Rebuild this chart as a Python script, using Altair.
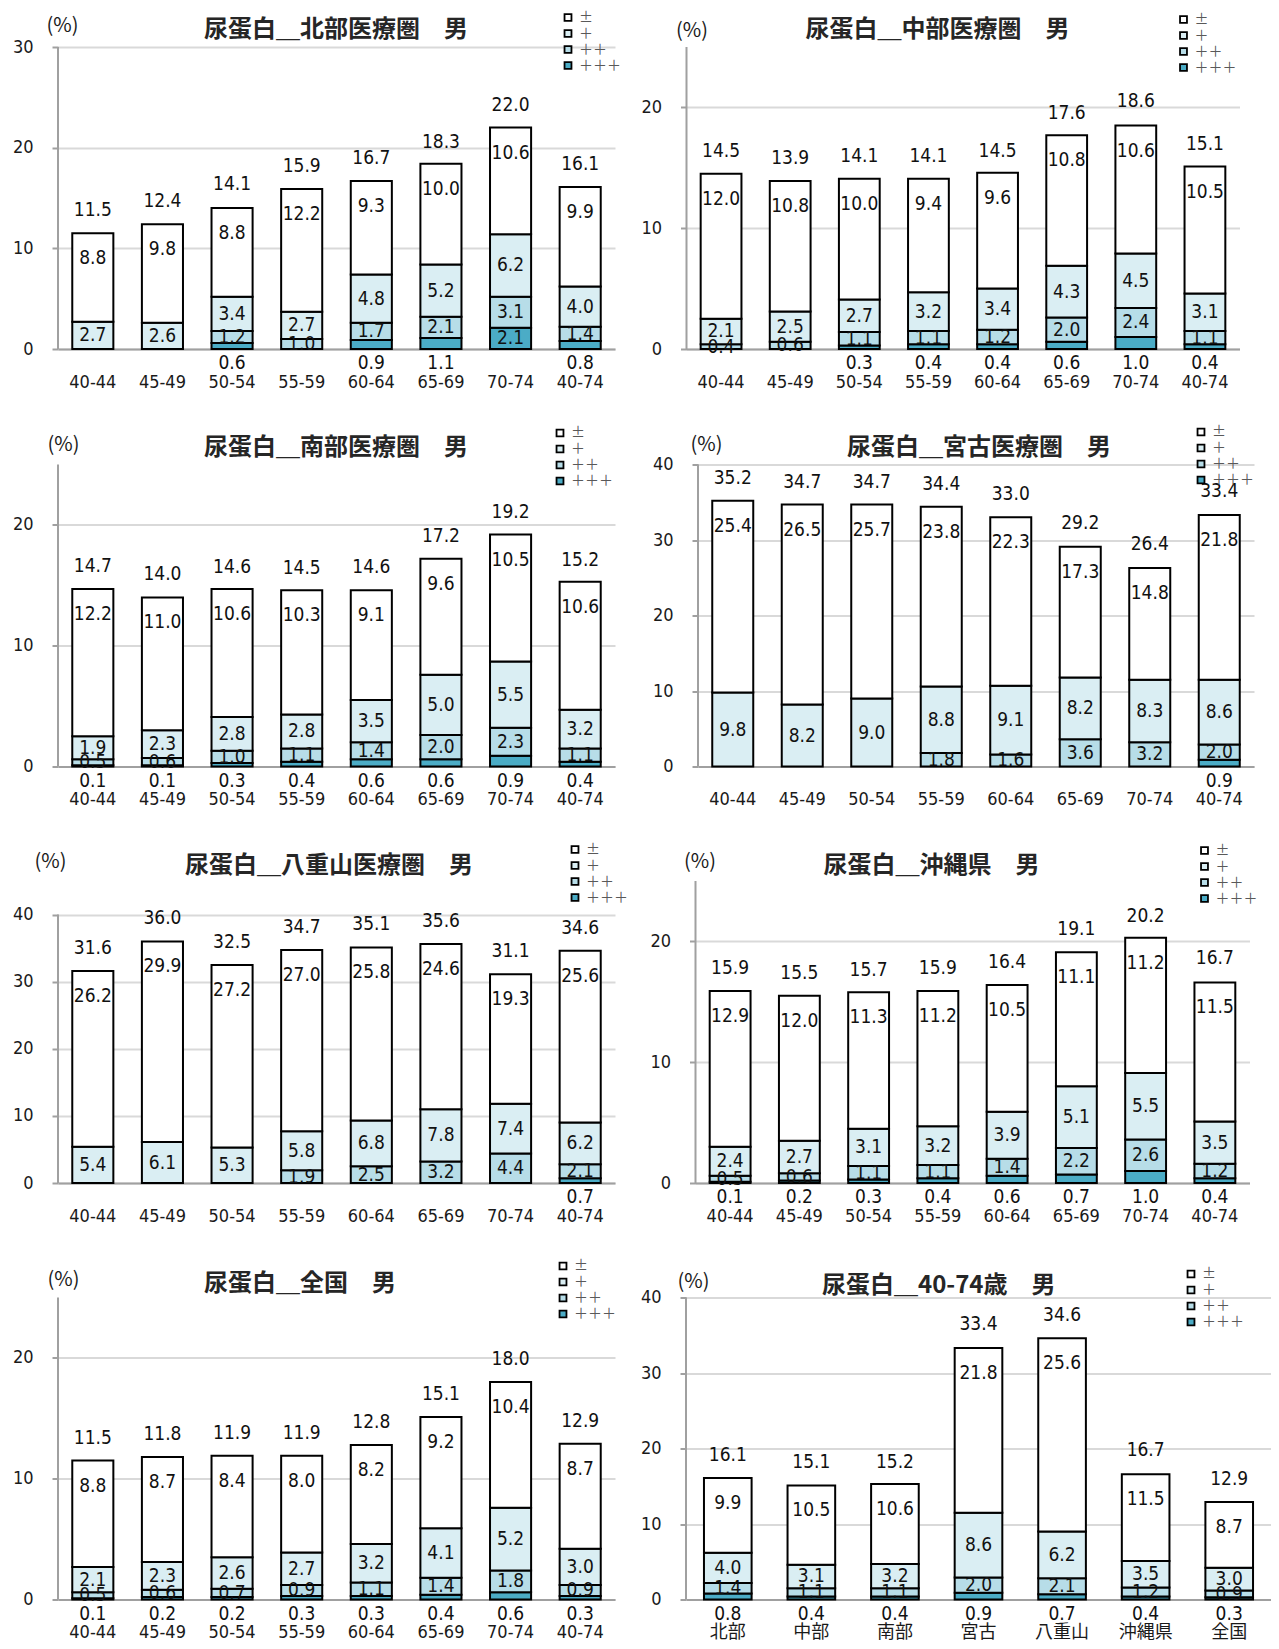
import altair as alt
import pandas as pd

AGES = ["40-44", "45-49", "50-54", "55-59", "60-64", "65-69", "70-74", "40-74"]
AREAS = ["北部", "中部", "南部", "宮古", "八重山", "沖縄県", "全国"]
GRADES = ["±", "＋", "＋＋", "＋＋＋"]
GRADE_COLORS = ["#FFFFFF", "#DAEEF3", "#B7DDE8", "#4BACC6"]

# 北部医療圏
HOKUBU_PM = [8.8, 9.8, 8.8, 12.2, 9.3, 10.0, 10.6, 9.9]
HOKUBU_P1 = [2.7, 2.6, 3.4, 2.7, 4.8, 5.2, 6.2, 4.0]
HOKUBU_P2 = [0, 0, 1.2, 1.0, 1.7, 2.1, 3.1, 1.4]
HOKUBU_P3 = [0, 0, 0.6, 0, 0.9, 1.1, 2.1, 0.8]
HOKUBU_TOTAL = [11.5, 12.4, 14.1, 15.9, 16.7, 18.3, 22.0, 16.1]

# 中部医療圏
CHUBU_PM = [12.0, 10.8, 10.0, 9.4, 9.6, 10.8, 10.6, 10.5]
CHUBU_P1 = [2.1, 2.5, 2.7, 3.2, 3.4, 4.3, 4.5, 3.1]
CHUBU_P2 = [0.4, 0.6, 1.1, 1.1, 1.2, 2.0, 2.4, 1.1]
CHUBU_P3 = [0, 0, 0.3, 0.4, 0.4, 0.6, 1.0, 0.4]
CHUBU_TOTAL = [14.5, 13.9, 14.1, 14.1, 14.5, 17.6, 18.6, 15.1]

# 南部医療圏
NANBU_PM = [12.2, 11.0, 10.6, 10.3, 9.1, 9.6, 10.5, 10.6]
NANBU_P1 = [1.9, 2.3, 2.8, 2.8, 3.5, 5.0, 5.5, 3.2]
NANBU_P2 = [0.5, 0.6, 1.0, 1.1, 1.4, 2.0, 2.3, 1.1]
NANBU_P3 = [0.1, 0.1, 0.3, 0.4, 0.6, 0.6, 0.9, 0.4]
NANBU_TOTAL = [14.7, 14.0, 14.6, 14.5, 14.6, 17.2, 19.2, 15.2]

# 宮古医療圏
MIYAKO_PM = [25.4, 26.5, 25.7, 23.8, 22.3, 17.3, 14.8, 21.8]
MIYAKO_P1 = [9.8, 8.2, 9.0, 8.8, 9.1, 8.2, 8.3, 8.6]
MIYAKO_P2 = [0, 0, 0, 1.8, 1.6, 3.6, 3.2, 2.0]
MIYAKO_P3 = [0, 0, 0, 0, 0, 0, 0, 0.9]
MIYAKO_TOTAL = [35.2, 34.7, 34.7, 34.4, 33.0, 29.2, 26.4, 33.4]

# 八重山医療圏
YAEYAMA_PM = [26.2, 29.9, 27.2, 27.0, 25.8, 24.6, 19.3, 25.6]
YAEYAMA_P1 = [5.4, 6.1, 5.3, 5.8, 6.8, 7.8, 7.4, 6.2]
YAEYAMA_P2 = [0, 0, 0, 1.9, 2.5, 3.2, 4.4, 2.1]
YAEYAMA_P3 = [0, 0, 0, 0, 0, 0, 0, 0.7]
YAEYAMA_TOTAL = [31.6, 36.0, 32.5, 34.7, 35.1, 35.6, 31.1, 34.6]

# 沖縄県
OKINAWA_PM = [12.9, 12.0, 11.3, 11.2, 10.5, 11.1, 11.2, 11.5]
OKINAWA_P1 = [2.4, 2.7, 3.1, 3.2, 3.9, 5.1, 5.5, 3.5]
OKINAWA_P2 = [0.5, 0.6, 1.1, 1.1, 1.4, 2.2, 2.6, 1.2]
OKINAWA_P3 = [0.1, 0.2, 0.3, 0.4, 0.6, 0.7, 1.0, 0.4]
OKINAWA_TOTAL = [15.9, 15.5, 15.7, 15.9, 16.4, 19.1, 20.2, 16.7]

# 全国
ZENKOKU_PM = [8.8, 8.7, 8.4, 8.0, 8.2, 9.2, 10.4, 8.7]
ZENKOKU_P1 = [2.1, 2.3, 2.6, 2.7, 3.2, 4.1, 5.2, 3.0]
ZENKOKU_P2 = [0.5, 0.6, 0.7, 0.9, 1.1, 1.4, 1.8, 0.9]
ZENKOKU_P3 = [0.1, 0.2, 0.2, 0.3, 0.3, 0.4, 0.6, 0.3]
ZENKOKU_TOTAL = [11.5, 11.8, 11.9, 11.9, 12.8, 15.1, 18.0, 12.9]

# 40-74歳 (by area)
AGE4074_PM = [9.9, 10.5, 10.6, 21.8, 25.6, 11.5, 8.7]
AGE4074_P1 = [4.0, 3.1, 3.2, 8.6, 6.2, 3.5, 3.0]
AGE4074_P2 = [1.4, 1.1, 1.1, 2.0, 2.1, 1.2, 0.9]
AGE4074_P3 = [0.8, 0.4, 0.4, 0.9, 0.7, 0.4, 0.3]
AGE4074_TOTAL = [16.1, 15.1, 15.2, 33.4, 34.6, 16.7, 12.9]

NUMFONT = "Liberation Sans Narrow, DejaVu Sans Condensed, Noto Sans CJK JP, sans-serif"
CJK = "Noto Sans CJK JP, sans-serif"
AXIS_GRAY = "#A0A0A0"
PLOT_H = 302


def panel(title, cats, pm, p1, p2, p3, total, width, ymax, axis_top, ticks,
          legend_xy, title_dx, title_dy, pct_xy, pad=0.41):
    rows = []
    for i, c in enumerate(cats):
        for g, o, vals in [(GRADES[3], 0, p3), (GRADES[2], 1, p2),
                           (GRADES[1], 2, p1), (GRADES[0], 3, pm)]:
            if vals[i] > 0:
                rows.append({"cat": c, "grade": g, "ord": o, "value": vals[i]})
    df = pd.DataFrame(rows)
    tot = pd.DataFrame({"cat": cats, "total": total})
    axis_df = pd.DataFrame({"y0": [0], "top": [axis_top]})

    xscale = alt.Scale(paddingInner=pad, paddingOuter=pad / 2)
    yscale = alt.Scale(domain=[0, ymax], nice=False, zero=True)

    x_main = alt.X("cat:N", sort=cats, scale=xscale, title=None,
                   axis=alt.Axis(labelAngle=0, ticks=False, tickSize=0,
                                 labelPadding=33, labelBaseline="middle",
                                 labelFont=NUMFONT, labelFontSize=18,
                                 labelColor="#1a1a1a", domainColor=AXIS_GRAY,
                                 domainWidth=2, grid=False))
    x_plain = alt.X("cat:N", sort=cats)

    base = alt.Chart(df).transform_stack(
        stack="value", groupby=["cat"], as_=["v0", "v1"],
        sort=[alt.SortField("ord", order="ascending")]
    ).transform_calculate(mid="(datum.v0 + datum.v1) / 2", zero="0")

    bars = base.mark_bar(stroke="black", strokeWidth=2).encode(
        x=x_main,
        y=alt.Y("v0:Q", scale=yscale,
                axis=alt.Axis(values=ticks, domain=False, grid=True,
                              gridColor="#D9D9D9", gridWidth=2,
                              tickColor=AXIS_GRAY, tickWidth=2, tickSize=6,
                              labelPadding=19, labelFont=NUMFONT,
                              labelFontSize=18, labelColor="#1a1a1a",
                              title="(%)", titleAngle=0, titleX=pct_xy[0],
                              titleY=pct_xy[1], titleAlign="center",
                              titleBaseline="middle", titleFont=CJK,
                              titleFontSize=20, titleFontWeight="normal",
                              titleColor="#1a1a1a")),
        y2="v1:Q",
        color=alt.Color("grade:N",
                        scale=alt.Scale(domain=GRADES, range=GRADE_COLORS),
                        legend=alt.Legend(title=None, orient="none",
                                          legendX=legend_xy[0],
                                          legendY=legend_xy[1],
                                          symbolType="square", symbolSize=48,
                                          symbolStrokeColor="black",
                                          symbolStrokeWidth=1.8,
                                          labelFont=CJK, labelFontSize=14,
                                          labelColor="#595959", labelOffset=4,
                                          rowPadding=0, padding=0)),
    )

    yaxis_line = alt.Chart(axis_df).mark_rule(color=AXIS_GRAY, strokeWidth=2).encode(
        x=alt.value(0), y="y0:Q", y2="top:Q")

    txt = dict(font=NUMFONT, fontSize=19, color="#111", baseline="middle")

    lbl_pm = base.transform_filter(f"datum.grade == '{GRADES[0]}'").mark_text(dy=25, **txt).encode(
        x=x_plain, y="v1:Q", text=alt.Text("value:Q", format=".1f"))
    lbl_mid = base.transform_filter(
        f"datum.grade == '{GRADES[1]}' || datum.grade == '{GRADES[2]}' || "
        f"(datum.grade == '{GRADES[3]}' && datum.value >= 2)"
    ).mark_text(**txt).encode(
        x=x_plain, y="mid:Q", text=alt.Text("value:Q", format=".1f"))
    lbl_low = base.transform_filter(
        f"datum.grade == '{GRADES[3]}' && datum.value < 2"
    ).mark_text(dy=14, **txt).encode(
        x=x_plain, y="zero:Q", text=alt.Text("value:Q", format=".1f"))
    lbl_tot = alt.Chart(tot).mark_text(dy=-23, **txt).encode(
        x=x_plain, y="total:Q", text=alt.Text("total:Q", format=".1f"))

    return alt.layer(bars, yaxis_line, lbl_pm, lbl_mid, lbl_low, lbl_tot).properties(
        width=width, height=PLOT_H,
        title=alt.TitleParams(text=title, anchor="start", frame="group",
                              dx=title_dx, dy=title_dy, offset=0,
                              font=CJK, fontSize=24, fontWeight="bold",
                              color="#262626"),
    )


p_hokubu = panel("尿蛋白＿北部医療圏　男", AGES, HOKUBU_PM, HOKUBU_P1, HOKUBU_P2, HOKUBU_P3,
                 HOKUBU_TOTAL, 557, 30, 30, [0, 10, 20, 30], (503, -36.5), 146, 31, (4, -22))
p_chubu = panel("尿蛋白＿中部医療圏　男", AGES, CHUBU_PM, CHUBU_P1, CHUBU_P2, CHUBU_P3,
                CHUBU_TOTAL, 553, 25, 25, [0, 10, 20], (490, -34.5), 119, 29, (5, -17))
p_nanbu = panel("尿蛋白＿南部医療圏　男", AGES, NANBU_PM, NANBU_P1, NANBU_P2, NANBU_P3,
                NANBU_TOTAL, 557, 25, 25, [0, 10, 20], (495, -38.5), 146, 34, (5, -20))
p_miyako = panel("尿蛋白＿宮古医療圏　男", AGES, MIYAKO_PM, MIYAKO_P1, MIYAKO_P2, MIYAKO_P3,
                 MIYAKO_TOTAL, 556, 40, 40, [0, 10, 20, 30, 40], (496, -39.5), 149, 35, (8, -20))
p_yaeyama = panel("尿蛋白＿八重山医療圏　男", AGES, YAEYAMA_PM, YAEYAMA_P1, YAEYAMA_P2, YAEYAMA_P3,
                  YAEYAMA_TOTAL, 557, 45, 40, [0, 10, 20, 30, 40], (510, -38.5), 127, 35, (-8, -20))
p_okinawa = panel("尿蛋白＿沖縄県　男", AGES, OKINAWA_PM, OKINAWA_P1, OKINAWA_P2, OKINAWA_P3,
                  OKINAWA_TOTAL, 554, 25, 25, [0, 10, 20], (502, -37.5), 128, 34, (4, -20))
p_zenkoku = panel("尿蛋白＿全国　男", AGES, ZENKOKU_PM, ZENKOKU_P1, ZENKOKU_P2, ZENKOKU_P3,
                  ZENKOKU_TOTAL, 557, 25, 25, [0, 10, 20], (498, -38.5), 146, 37, (5, -18))
p_4074 = panel("尿蛋白＿40-74歳　男", AREAS, AGE4074_PM, AGE4074_P1, AGE4074_P2, AGE4074_P3,
               AGE4074_TOTAL, 585, 40, 40, [0, 10, 20, 30, 40], (498, -30.5), 136, 31, (7, -16),
               pad=0.43)


def row(a, b, spacing):
    return alt.hconcat(a, b, spacing=spacing, bounds="flush").resolve_scale(
        color="independent").resolve_legend(color="independent")


chart = alt.vconcat(
    row(p_hokubu, p_chubu, 71.5),
    row(p_nanbu, p_miyako, 83),
    row(p_yaeyama, p_okinawa, 80.5),
    row(p_zenkoku, p_4074, 71),
    spacing=33.5,
).resolve_scale(color="independent").resolve_legend(color="independent").properties(
    padding={"left": 4, "top": 2, "right": 0, "bottom": 0}
).configure_view(stroke=None)

chart.save("out.html", embed_options={"renderer": "svg", "actions": False})
